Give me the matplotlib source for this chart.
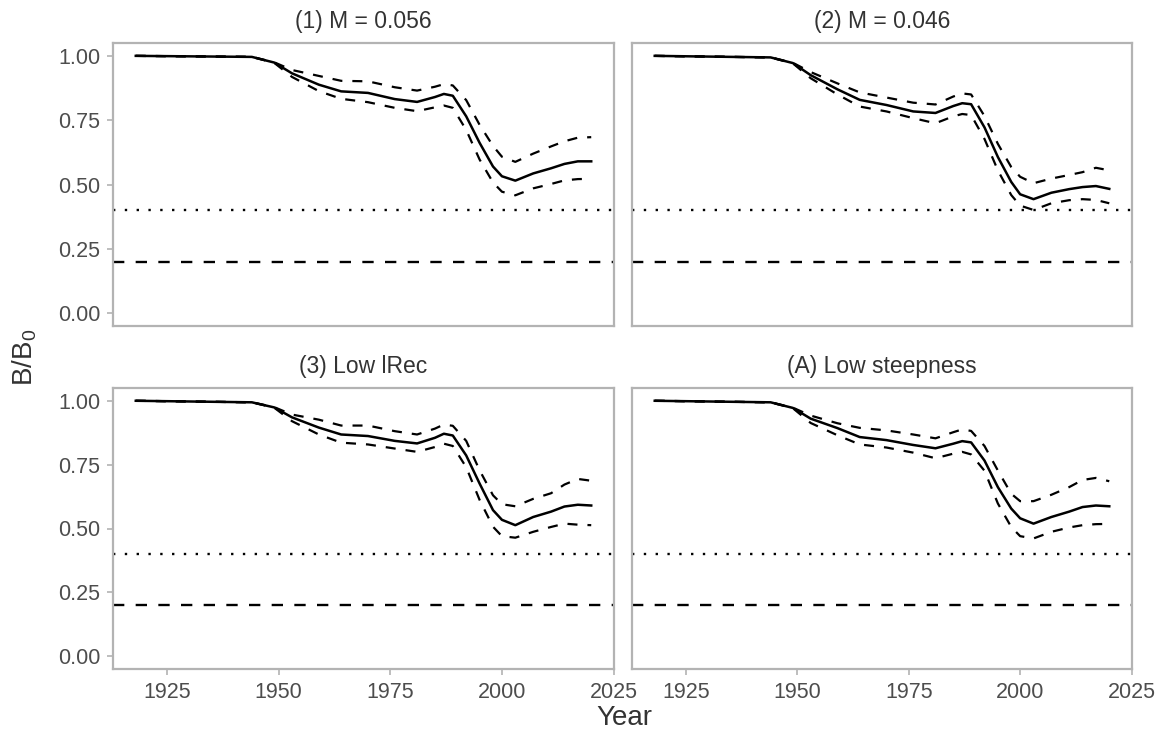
import matplotlib
matplotlib.use("Agg")
import matplotlib.pyplot as plt
import numpy as np

plt.rcParams['font.family'] = ['Liberation Sans', 'DejaVu Sans']
plt.rcParams['mathtext.fontset'] = 'custom'
plt.rcParams['mathtext.rm'] = 'Liberation Sans'

years = [1918, 1944, 1949, 1953, 1959, 1964, 1970, 1976, 1981, 1985, 1987,
         1989, 1992, 1995, 1998, 2000, 2003, 2007, 2011, 2014, 2017, 2020]

titles = ["(1) M = 0.056", "(2) M = 0.046", "(3) Low lRec", "(A) Low steepness"]

# median B/B0 per scenario
med_1 = [1.0, 0.996, 0.974, 0.932, 0.888, 0.862, 0.856, 0.832, 0.821, 0.840, 0.852,
         0.845, 0.765, 0.662, 0.570, 0.532, 0.515, 0.543, 0.563, 0.580, 0.590, 0.590]
med_2 = [1.0, 0.994, 0.972, 0.925, 0.870, 0.829, 0.809, 0.784, 0.778, 0.805, 0.816,
         0.812, 0.722, 0.607, 0.510, 0.462, 0.443, 0.468, 0.482, 0.490, 0.494, 0.483]
med_3 = [1.0, 0.994, 0.974, 0.935, 0.895, 0.868, 0.862, 0.843, 0.833, 0.855, 0.871,
         0.864, 0.786, 0.676, 0.572, 0.534, 0.513, 0.545, 0.566, 0.586, 0.593, 0.590]
med_4 = [1.0, 0.994, 0.972, 0.930, 0.893, 0.858, 0.846, 0.827, 0.814, 0.832, 0.842,
         0.837, 0.766, 0.662, 0.578, 0.540, 0.519, 0.545, 0.566, 0.584, 0.590, 0.587]

# upper interval
hi_1 = [1.0, 0.996, 0.975, 0.945, 0.922, 0.903, 0.901, 0.878, 0.865, 0.880, 0.890,
        0.885, 0.828, 0.732, 0.650, 0.608, 0.588, 0.620, 0.648, 0.668, 0.682, 0.684]
hi_2 = [1.0, 0.994, 0.973, 0.937, 0.893, 0.858, 0.838, 0.818, 0.811, 0.842, 0.854,
        0.850, 0.766, 0.658, 0.568, 0.530, 0.505, 0.523, 0.537, 0.548, 0.565, 0.555]
hi_3 = [1.0, 0.994, 0.975, 0.946, 0.926, 0.903, 0.903, 0.881, 0.868, 0.891, 0.907,
        0.902, 0.843, 0.728, 0.630, 0.595, 0.587, 0.616, 0.638, 0.672, 0.694, 0.687]
hi_4 = [1.0, 0.994, 0.973, 0.942, 0.912, 0.894, 0.884, 0.868, 0.853, 0.877, 0.888,
        0.882, 0.823, 0.727, 0.636, 0.607, 0.607, 0.632, 0.662, 0.690, 0.698, 0.685]

# lower interval
lo_1 = [1.0, 0.996, 0.973, 0.918, 0.863, 0.833, 0.820, 0.798, 0.785, 0.800, 0.807,
        0.798, 0.712, 0.597, 0.508, 0.472, 0.458, 0.485, 0.502, 0.516, 0.521, 0.522]
lo_2 = [1.0, 0.994, 0.971, 0.913, 0.850, 0.803, 0.784, 0.758, 0.738, 0.765, 0.774,
        0.770, 0.677, 0.555, 0.459, 0.418, 0.401, 0.427, 0.439, 0.443, 0.440, 0.427]
lo_3 = [1.0, 0.994, 0.973, 0.920, 0.868, 0.836, 0.829, 0.813, 0.800, 0.819, 0.832,
        0.823, 0.740, 0.612, 0.507, 0.470, 0.464, 0.487, 0.506, 0.519, 0.515, 0.513]
lo_4 = [1.0, 0.994, 0.971, 0.913, 0.865, 0.829, 0.817, 0.797, 0.775, 0.793, 0.800,
        0.790, 0.726, 0.598, 0.506, 0.470, 0.461, 0.487, 0.504, 0.513, 0.517, 0.518]

target = 0.4
limit = 0.2

meds = [med_1, med_2, med_3, med_4]
his = [hi_1, hi_2, hi_3, hi_4]
los = [lo_1, lo_2, lo_3, lo_4]

fig = plt.figure(figsize=(11.58, 7.38), dpi=100)
W, H = 1158, 738
boxes = [(113, 43, 614, 326), (632, 43, 1132, 326),
         (113, 388, 614, 669), (632, 388, 1132, 669)]

grey = '#b3b3b3'
txt = '#4d4d4d'
span = years[-1] - years[0]
xlim = (years[0] - 0.05 * span, years[-1] + 0.05 * span)

for i, (l, t, r, b) in enumerate(boxes):
    ax = fig.add_axes([l / W, 1 - b / H, (r - l) / W, (b - t) / H])
    ax.plot(years, meds[i], color='black', lw=1.8)
    ax.plot(years, his[i], color='black', lw=1.6, dashes=(4.5, 4.5))
    ax.plot(years, los[i], color='black', lw=1.6, dashes=(4.5, 4.5))
    ax.axhline(target, color='black', lw=1.7, dashes=(1, 4))
    ax.axhline(limit, color='black', lw=1.7, dashes=(4.8, 4.8))
    ax.set_xlim(*xlim)
    ax.set_ylim(-0.05, 1.05)
    ax.set_xticks([1925, 1950, 1975, 2000, 2025])
    ax.set_yticks([0, 0.25, 0.5, 0.75, 1.0])
    ax.set_yticklabels(['0.00', '0.25', '0.50', '0.75', '1.00'])
    for s in ax.spines.values():
        s.set_color(grey)
        s.set_linewidth(1.6)
    ax.tick_params(colors=grey, labelcolor=txt, labelsize=15.5, length=4, width=1.2, pad=5)
    if i % 2 == 1:
        ax.tick_params(axis='y', left=False, labelleft=False)
    if i < 2:
        ax.tick_params(axis='x', bottom=False, labelbottom=False)
    ax.set_title(titles[i], fontsize=16.5, color='#333333', pad=11)

fig.text(624 / W, 1 - 718 / H, 'Year', ha='center', va='center',
         fontsize=20, color='#333333')
fig.text(25 / W, 1 - 357 / H, r'B/B$_{\mathregular{0}}$', ha='center', va='center',
         rotation=90, fontsize=20, color='#333333')

fig.savefig('out.png', dpi=100)
